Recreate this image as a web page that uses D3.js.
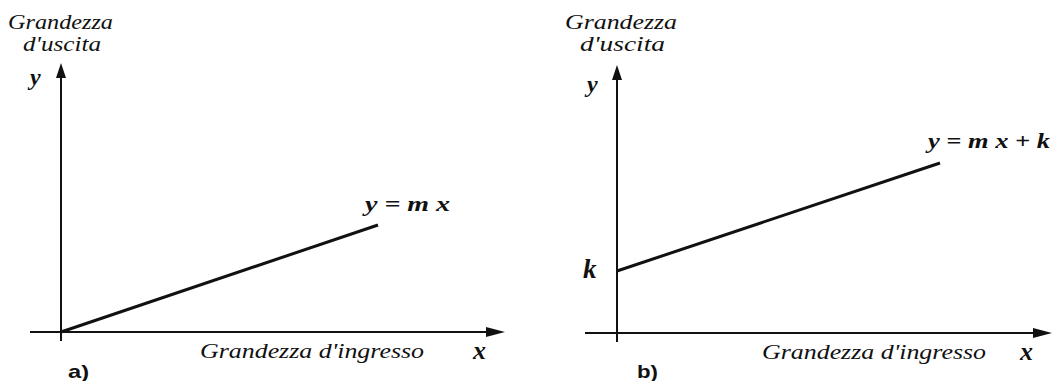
<!DOCTYPE html>
<html>
<head>
<meta charset="utf-8">
<script src="https://cdn.jsdelivr.net/npm/d3@7"></script>
<style>
    body { margin: 0; background: #fff; }
    svg { display: block; }
</style>
</head>
<body>
<div id="chart"></div>
<script>
// Axis extents in drawing units (1 unit on x and y is the same length)
const xDomainA = [-0.31, 4.44];
const yDomainA = [-0.09, 2.69];
const xDomainB = [-0.32, 4.35];
const yDomainB = [-0.09, 2.68];

// Straight lines, start and end points
const lineAx = [0, 3.17];
const lineAy = [0, 1.07];
const lineBx = [0, 3.23];
const lineBy = [0.62, 1.70];

// Texts
const outLabel = ['Grandezza', "d'uscita"];
const inLabel = "Grandezza d'ingresso";
const eqA = 'y = m x';
const eqB = 'y = m x + k';
const panelTags = ['a)', 'b)'];

const serif = '"Liberation Serif"';
const sans = '"Liberation Sans"';

const svg = d3.select('#chart')
    .append('svg')
    .attr('width', 1062)
    .attr('height', 381);

// helper for the italic texts (wide font in the original, so glyphs are stretched)
function label(g, txt, x, y, size, bold, len) {
    const t = g.append('text')
        .attr('x', x).attr('y', y)
        .attr('font-size', size)
        .style('font-family', serif)
        .style('font-style', 'italic')
        .style('font-weight', bold ? 'bold' : 'normal')
        .style('fill', '#111')
        .text(txt);
    if (len) t.attr('textLength', len).attr('lengthAdjust', 'spacingAndGlyphs');
    return t;
}

// Function to draw one panel
function drawPanel(opt) {
    const xScale = d3.scaleLinear().domain(opt.xDomain).range(opt.xRange);
    const yScale = d3.scaleLinear().domain(opt.yDomain).range(opt.yRange);
    const g = svg.append('g');

    const x0 = xScale(0), y0 = yScale(0);
    const xEnd = xScale(opt.xDomain[1]), yTop = yScale(opt.yDomain[1]);

    // x axis line + arrow head
    g.append('line')
        .attr('x1', xScale(opt.xDomain[0])).attr('y1', y0)
        .attr('x2', xEnd - 10).attr('y2', y0)
        .attr('stroke', '#111').attr('stroke-width', 2);
    g.append('path')
        .attr('d', `M${xEnd},${y0} L${xEnd - 19},${y0 - 5} L${xEnd - 19},${y0 + 5} Z`)
        .attr('fill', '#111');

    // y axis line + arrow head
    g.append('line')
        .attr('x1', x0).attr('y1', yScale(opt.yDomain[0]))
        .attr('x2', x0).attr('y2', yTop + 8)
        .attr('stroke', '#111').attr('stroke-width', 2);
    g.append('path')
        .attr('d', `M${x0},${yTop} L${x0 - 5},${yTop + 15} L${x0 + 5},${yTop + 15} Z`)
        .attr('fill', '#111');

    // the straight line
    const pts = opt.lx.map((v, i) => [v, opt.ly[i]]);
    g.append('path')
        .datum(pts)
        .attr('d', d3.line().x(d => xScale(d[0])).y(d => yScale(d[1])))
        .attr('fill', 'none')
        .attr('stroke', '#111')
        .attr('stroke-width', 3);

    // output label (top)
    label(g, outLabel[0], x0 - 53 + opt.dx, 29, 21, false, opt.gw);
    label(g, outLabel[1], x0 - 38 + opt.dx, 51, 21, false, opt.uw);
    label(g, 'y', x0 - 31 + opt.dx, opt.yLabY, 24, true);

    // input label (bottom)
    label(g, inLabel, opt.inX, y0 + 26, 21, false, 224);
    label(g, 'x', xEnd - 32, y0 + 27, 26, true);

    // equation near the line end
    const last = pts[pts.length - 1];
    label(g, opt.eq, xScale(last[0]) + opt.eqDx, yScale(last[1]) + opt.eqDy, 22, true, opt.eqW);

    // panel tag
    g.append('text')
        .attr('x', x0 + 7 + opt.tagDx).attr('y', 378)
        .attr('font-size', 19)
        .attr('textLength', 21)
        .attr('lengthAdjust', 'spacingAndGlyphs')
        .style('font-family', sans)
        .style('font-weight', 'bold')
        .style('fill', '#111')
        .text(opt.tag);

    return { g, xScale, yScale };
}

drawPanel({
    xDomain: xDomainA, yDomain: yDomainA,
    xRange: [30, 505], yRange: [341, 63],
    lx: lineAx, ly: lineAy,
    dx: 0, gw: 105, uw: 78, yLabY: 85,
    inX: 200, eq: eqA, eqDx: -13, eqDy: -14, eqW: 85,
    tag: panelTags[0], tagDx: 0
});

const pb = drawPanel({
    xDomain: xDomainB, yDomain: yDomainB,
    xRange: [585, 1052], yRange: [342, 65],
    lx: lineBx, ly: lineBy,
    dx: 1, gw: 112, uw: 85, yLabY: 92,
    inX: 762, eq: eqB, eqDx: -12, eqDy: -15, eqW: 122,
    tag: panelTags[1], tagDx: 13
});

// intercept label k on panel b
label(pb.g, 'k', pb.xScale(0) - 34, pb.yScale(lineBy[0]) + 7, 27, true);
</script>
</body>
</html>
